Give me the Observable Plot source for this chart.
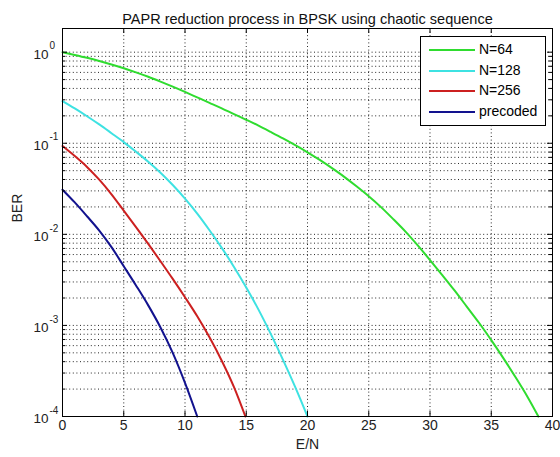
<!DOCTYPE html>
<html><head><meta charset="utf-8">
<script src="https://cdn.jsdelivr.net/npm/d3@7"></script>
<script src="https://cdn.jsdelivr.net/npm/@observablehq/plot@0.6"></script>
<style>
body{margin:0;background:#fff;}
#wrap{position:relative;width:560px;height:457px;font-family:"Liberation Sans",Arial,sans-serif;}
#legend{position:absolute;left:420px;top:36px;width:126px;height:90px;background:#fff;border:1px solid #000;box-sizing:border-box;}
.row{position:absolute;left:0;height:20px;width:100%;}
.row .ln{position:absolute;left:8px;width:46px;height:2px;top:9px;}
.row .tx{position:absolute;left:58px;top:1px;font-size:14px;line-height:16px;color:#000;}
</style>
</head><body><div id="wrap"></div>
<script>
const titleText = "PAPR reduction process in BPSK using chaotic sequence";
const xLabel = "E/N";
const yLabel = "BER";
const seriesNames = ["N=64", "N=128", "N=256", "precoded"];
const seriesColors = ["#2fdc2f", "#3ee2e2", "#cc2020", "#12128e"];

const snrN64 = [0,1,2,3,4,5,6,7,8,9,10,11,12,13,14,15,16,17,18,19,20,21,22,23,24,25,26,27,28,29,30,31,32,33,34,35,36,37,38,38.85];
const berN64 = [1.0,0.933,0.867,0.80,0.733,0.667,0.601,0.537,0.475,0.418,0.366,0.319,0.278,0.242,0.209,0.181,0.156,0.133,0.113,0.0953,0.0796,0.0656,0.0533,0.0428,0.0337,0.0262,0.0199,0.0147,0.0107,0.00755,0.00522,0.00357,0.00242,0.00161,0.00107,0.00069,0.000435,0.000268,0.000161,0.0001];

const snrN128 = [0,1,2,3,4,5,6,7,8,9,10,11,12,13,14,15,16,17,18,19,20];
const berN128 = [0.29,0.241,0.198,0.161,0.129,0.103,0.0807,0.0627,0.0475,0.0348,0.0247,0.0169,0.0111,0.00711,0.00439,0.00261,0.00149,0.000807,0.000419,0.00021,0.0001];

const snrN256 = [0,1,2,3,4,5,6,7,8,9,10,11,12,13,14,14.93];
const berN256 = [0.0933,0.0724,0.055,0.0398,0.0275,0.0182,0.012,0.00785,0.00507,0.00324,0.00204,0.00126,0.00074,0.00041,0.00021,0.0001];

const snrPre = [0,1,2,3,4,5,6,7,8,9,10,11];
const berPre = [0.0309,0.0224,0.0158,0.011,0.00724,0.00447,0.00275,0.00166,0.00095,0.0005,0.000234,0.0001];

const xTicks = [0,5,10,15,20,25,30,35,40];
const xGrid = [5,10,15,20,25,30,35];
const yDecades = [1e-4,1e-3,1e-2,1e-1,1];
const yExponents = ["-4","-3","-2","-1","0"];
const yMinor = [2e-4,3e-4,4e-4,5e-4,6e-4,7e-4,8e-4,9e-4,
  2e-3,3e-3,4e-3,5e-3,6e-3,7e-3,8e-3,9e-3,
  2e-2,3e-2,4e-2,5e-2,6e-2,7e-2,8e-2,9e-2,
  0.2,0.3,0.4,0.5,0.6,0.7,0.8,0.9];

const seriesX = [snrN64, snrN128, snrN256, snrPre];
const seriesY = [berN64, berN128, berN256, berPre];
const rows = [];
seriesNames.forEach((name, s) => seriesX[s].forEach((x, i) => rows.push({series: name, x, y: seriesY[s][i]})));

const W = 560, H = 457, mL = 62, mR = 8, mT = 28, mB = 41;
const pw = W - mL - mR, ph = H - mT - mB;
const grid = {stroke: "#000", strokeOpacity: 0.85, strokeDasharray: "1,2.6", strokeWidth: 1};

const chart = Plot.plot({
  width: W, height: H,
  marginLeft: mL, marginRight: mR, marginTop: mT, marginBottom: mB,
  style: {fontFamily: "Liberation Sans, Arial, sans-serif", fontSize: "14px", background: "#fff", overflow: "visible"},
  x: {domain: [0, 40], axis: null},
  y: {type: "log", domain: [1e-4, 1.82], axis: null},
  color: {domain: seriesNames, range: seriesColors},
  marks: [
    Plot.ruleY(yMinor, {y: d => d, ...grid}),
    Plot.ruleY(yDecades.slice(1), {y: d => d, ...grid}),
    Plot.ruleX(xGrid, {x: d => d, ...grid}),
    Plot.line(rows, {x: "x", y: "y", z: "series", stroke: "series", strokeWidth: 2, curve: "monotone-x"}),
    Plot.frame({stroke: "#000", strokeWidth: 1}),
    Plot.tickX(xTicks, {x: d => d, insetTop: ph - 5, stroke: "#000"}),
    Plot.tickX(xTicks, {x: d => d, insetBottom: ph - 5, stroke: "#000"}),
    Plot.tickY(yDecades, {y: d => d, insetRight: pw - 5, stroke: "#000"}),
    Plot.tickY(yDecades, {y: d => d, insetLeft: pw - 5, stroke: "#000"}),
    Plot.tickY(yMinor, {y: d => d, insetRight: pw - 3, stroke: "#000"}),
    Plot.tickY(yMinor, {y: d => d, insetLeft: pw - 3, stroke: "#000"}),
    Plot.text(xTicks, {x: d => d, frameAnchor: "bottom", dy: 13, text: d => String(d), fill: "#222", fontSize: 14}),
    Plot.text(yDecades, {y: d => d, frameAnchor: "left", dx: -14, dy: 2, textAnchor: "end", text: () => "10", fill: "#222", fontSize: 13.5}),
    Plot.text(yDecades, {y: d => d, frameAnchor: "left", dx: -13, dy: -6, textAnchor: "start", text: (d, i) => yExponents[i], fill: "#222", fontSize: 10}),
    Plot.text([xLabel], {frameAnchor: "bottom", dy: 32, text: d => d, fill: "#222", fontSize: 14}),
    Plot.text([yLabel], {frameAnchor: "left", dx: -45, rotate: -90, text: d => d, fill: "#222", fontSize: 14}),
    Plot.text([titleText], {frameAnchor: "top", dy: -15, text: d => d, fill: "#111", fontSize: 14.5})
  ]
});
const wrap = document.getElementById("wrap");
wrap.appendChild(chart);

const legend = document.createElement("div");
legend.id = "legend";
seriesNames.forEach((name, i) => {
  const r = document.createElement("div");
  r.className = "row";
  r.style.top = (3 + i * 20.7) + "px";
  const ln = document.createElement("div");
  ln.className = "ln";
  ln.style.background = seriesColors[i];
  const tx = document.createElement("div");
  tx.className = "tx";
  tx.textContent = name;
  r.appendChild(ln); r.appendChild(tx);
  legend.appendChild(r);
});
wrap.appendChild(legend);
</script>
</body></html>
